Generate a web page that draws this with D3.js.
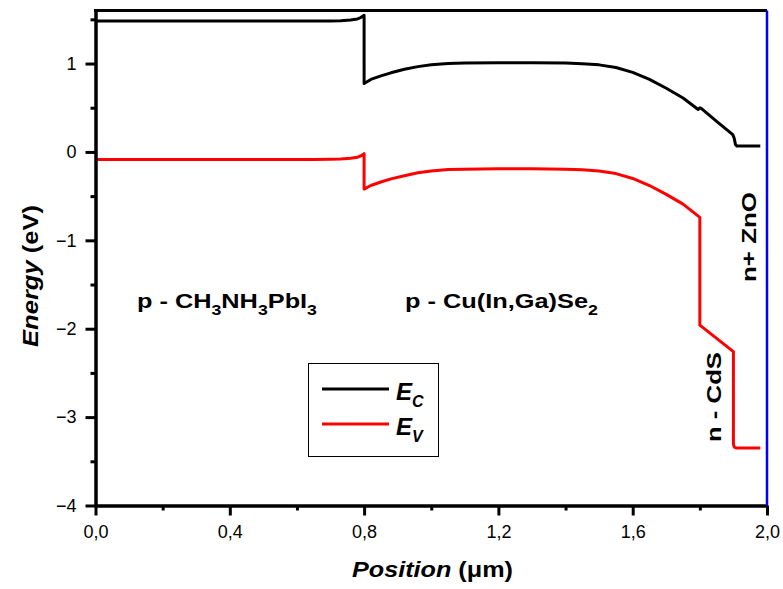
<!DOCTYPE html>
<html>
<head>
<meta charset="utf-8">
<script src="https://cdn.jsdelivr.net/npm/d3@7/dist/d3.min.js"></script>
<style>
  html, body { margin: 0; padding: 0; background: #fff; }
  svg { display: block; font-family: Arial, "Liberation Sans", sans-serif; }
</style>
</head>
<body>
<svg id="chart" width="783" height="589"></svg>
<script>
// Band diagram of a CH3NH3PbI3 / CIGS / CdS / ZnO stack: conduction (Ec) and valence (Ev) band edges
const ecPosition = [0, 0.1, 0.2, 0.3, 0.4, 0.5, 0.6, 0.65, 0.7, 0.73, 0.76, 0.78, 0.79, 0.8,
  0.8, 0.82, 0.85, 0.88, 0.92, 0.96, 1.0, 1.05, 1.1, 1.2, 1.3, 1.4, 1.45, 1.5, 1.55, 1.6,
  1.65, 1.7, 1.75, 1.795, 1.8, 1.805, 1.85, 1.898, 1.902, 1.906, 1.91, 1.98];
const ecEnergy = [1.48, 1.48, 1.48, 1.48, 1.48, 1.48, 1.48, 1.48, 1.482, 1.485, 1.492, 1.505, 1.52, 1.545,
  0.775, 0.82, 0.86, 0.895, 0.935, 0.965, 0.985, 1.0, 1.005, 1.01, 1.01, 1.005, 0.998, 0.985, 0.955, 0.9,
  0.82, 0.72, 0.61, 0.48, 0.5, 0.49, 0.345, 0.195, 0.16, 0.085, 0.068, 0.068];

const evPosition = [0, 0.1, 0.2, 0.3, 0.4, 0.5, 0.6, 0.65, 0.7, 0.73, 0.76, 0.78, 0.79, 0.8,
  0.8, 0.82, 0.85, 0.88, 0.92, 0.96, 1.0, 1.05, 1.1, 1.2, 1.3, 1.4, 1.45, 1.5, 1.55, 1.6,
  1.65, 1.7, 1.75, 1.8, 1.8, 1.9, 1.9, 1.903, 1.908, 1.98];
const evEnergy = [-0.085, -0.085, -0.085, -0.085, -0.085, -0.085, -0.085, -0.085, -0.083, -0.08, -0.072, -0.06, -0.045, -0.02,
  -0.42, -0.38, -0.34, -0.305, -0.27, -0.235, -0.215, -0.2, -0.195, -0.19, -0.19, -0.195, -0.202, -0.215, -0.245, -0.3,
  -0.38, -0.48, -0.59, -0.74, -1.96, -2.26, -3.31, -3.34, -3.35, -3.35];

const xMajorTicks = [0, 0.4, 0.8, 1.2, 1.6, 2.0];
const xMinorTicks = [0.2, 0.6, 1.0, 1.4, 1.8];
const yMajorTicks = [-4, -3, -2, -1, 0, 1];
const yMinorTicks = [-3.5, -2.5, -1.5, -0.5, 0.5, 1.5];

const svg = d3.select("#chart");
const plotLeft = 95.5, plotRight = 767, plotTop = 10.5, plotBottom = 505.5;

const x = d3.scaleLinear().domain([0, 2]).range([plotLeft, plotRight]);
const y = d3.scaleLinear().domain([-4, 1.6]).range([plotBottom, plotTop]);

const fmt = v => d3.format(".1f")(v).replace(".", ",");

// band-edge curves
const line = d3.line().x(d => x(d[0])).y(d => y(d[1]));
const ecData = ecPosition.map((p, i) => [p, ecEnergy[i]]);
const evData = evPosition.map((p, i) => [p, evEnergy[i]]);

svg.append("path").datum(evData).attr("d", line)
  .attr("fill", "none").attr("stroke", "#ff0000").attr("stroke-width", 3)
  .attr("stroke-linejoin", "round");
svg.append("path").datum(ecData).attr("d", line)
  .attr("fill", "none").attr("stroke", "#000").attr("stroke-width", 3)
  .attr("stroke-linejoin", "round");

// axes
function styleAxis(g) {
  g.selectAll("path.domain").attr("stroke", "#000").attr("stroke-width", 3);
  g.selectAll(".tick line").attr("stroke", "#000").attr("stroke-width", 3);
  g.selectAll(".tick text").attr("fill", "#000")
    .style("font-size", "18px").style("font-family", "Arial, 'Liberation Sans', sans-serif");
}

svg.append("g").attr("transform", `translate(0,${plotBottom})`)
  .call(d3.axisBottom(x).tickValues(xMinorTicks).tickSize(5).tickFormat("").tickSizeOuter(0))
  .call(styleAxis);
svg.append("g").attr("transform", `translate(0,${plotBottom})`)
  .call(d3.axisBottom(x).tickValues(xMajorTicks).tickSize(10).tickPadding(10).tickFormat(fmt).tickSizeOuter(0))
  .call(styleAxis);

svg.append("g").attr("transform", `translate(${plotLeft},0)`)
  .call(d3.axisLeft(y).tickValues(yMinorTicks).tickSize(5).tickFormat("").tickSizeOuter(0))
  .call(styleAxis);
svg.append("g").attr("transform", `translate(${plotLeft},0)`)
  .call(d3.axisLeft(y).tickValues(yMajorTicks).tickSize(10).tickPadding(9).tickFormat(d3.format("d")).tickSizeOuter(0))
  .call(styleAxis);

// top frame and the ZnO contact on the right
svg.append("line").attr("x1", plotLeft - 1.5).attr("x2", plotRight).attr("y1", plotTop).attr("y2", plotTop)
  .attr("stroke", "#000").attr("stroke-width", 3);
svg.append("line").attr("x1", plotRight).attr("x2", plotRight).attr("y1", plotTop).attr("y2", plotBottom)
  .attr("stroke", "#0000ff").attr("stroke-width", 2.5);

// Places a text at (px, py), optionally rotated, and widens it along its
// reading direction so that it spans `width` pixels.
function place(t, px, py, width, angle) {
  const w = t.node().getBBox().width;
  const s = width / w;
  t.attr("transform", `translate(${px},${py}) rotate(${angle || 0}) scale(${s},1)`);
  return t;
}

// rich text: parts are [string, style] with style "sub", "italic" or none
function richText(parts, size, anchor) {
  const t = svg.append("text").attr("x", 0).attr("y", 0)
    .attr("text-anchor", anchor || "start")
    .style("font-size", size + "px").style("font-weight", "bold");
  let shifted = false;
  parts.forEach(([s, kind]) => {
    const ts = t.append("tspan").text(s);
    if (kind === "sub") {
      ts.attr("dy", size * 0.35).style("font-size", (size * 0.7) + "px");
      shifted = true;
    } else {
      if (shifted) { ts.attr("dy", -size * 0.35); shifted = false; }
      if (kind === "italic") ts.style("font-style", "italic");
    }
  });
  return t;
}

// axis titles
place(richText([["Position", "italic"], [" (\u03bcm)"]], 22, "middle"), 432.5, 577, 161);
place(richText([["Energy", "italic"], [" (eV)"]], 22, "middle"), 38, 276, 142, -90);

// layer labels
place(richText([["p - CH"], ["3", "sub"], ["NH"], ["3", "sub"], ["PbI"], ["3", "sub"]], 21), 137, 308, 180);
place(richText([["p - Cu(In,Ga)Se"], ["2", "sub"]], 21), 405, 308, 193);
place(richText([["n - CdS"]], 21, "middle"), 721, 397, 90, -90);
place(richText([["n+ ZnO"]], 21, "middle"), 756, 237, 90, -90);

// legend
const legend = svg.append("g");
legend.append("rect").attr("x", 308.5).attr("y", 363.5).attr("width", 130).attr("height", 93)
  .attr("fill", "#fff").attr("stroke", "#000").attr("stroke-width", 1);
const legendItems = [["C", "#000", 389, 400], ["V", "#ff0000", 424, 435]];
legendItems.forEach(([sub, color, ly, ty]) => {
  legend.append("line").attr("x1", 322).attr("x2", 389).attr("y1", ly).attr("y2", ly)
    .attr("stroke", color).attr("stroke-width", 3);
  const t = legend.append("text").attr("x", 396).attr("y", ty)
    .style("font-size", "24px").style("font-weight", "bold").style("font-style", "italic");
  t.append("tspan").text("E");
  t.append("tspan").attr("dy", 7).style("font-size", "16px").text(sub);
});
</script>
</body>
</html>
